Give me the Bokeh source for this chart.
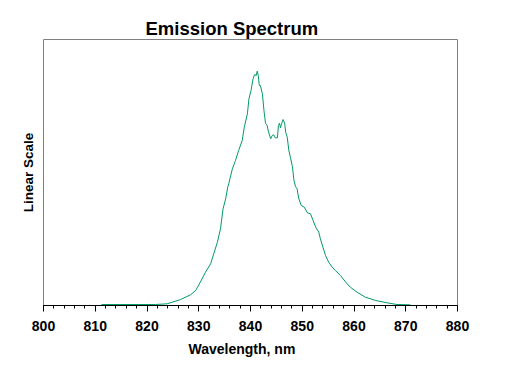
from bokeh.plotting import figure
from bokeh.embed import file_html
from bokeh.resources import INLINE
from bokeh.models import Range1d, FixedTicker, Title

# Emission spectrum (wavelength in nm, intensity in arbitrary linear units)
wavelength = [811.2, 821.6, 823.9, 826.5, 828.4, 829.4, 830.3, 831.3, 832.3, 832.9,
              833.6, 834.2, 834.7, 835.2, 835.6, 835.8, 836.1, 836.5, 837.1, 837.7,
              838.4, 838.8, 839.4, 839.7, 840.1, 840.5, 840.8, 841.1, 841.3, 841.5,
              841.7, 841.9, 842.3, 842.6, 842.9, 843.2, 843.5, 843.9, 844.2, 844.5,
              844.8, 845.2, 845.4, 845.6, 845.8, 846.0, 846.3, 846.6, 846.8, 847.1,
              847.4, 847.7, 848.1, 848.4, 848.7, 849.0, 849.3, 849.8, 850.4, 851.0,
              851.6, 852.1, 852.6, 853.2, 853.5, 854.0, 854.5, 855.1, 855.8, 856.4,
              857.4, 858.4, 859.3, 860.6, 862.2, 864.2, 866.4, 868.3, 870.9]
intensity = [1.0, 1.0, 1.7, 6.0, 10.7, 15.0, 23.3, 33.3, 41.7, 51.7,
             63.3, 76.7, 96.7, 106.7, 118.3, 121.7, 128.3, 136.7, 145.0, 155.0,
             165.0, 178.3, 191.7, 206.7, 215.0, 226.7, 231.0, 230.0, 234.3, 230.0,
             220.0, 220.0, 211.7, 195.0, 182.3, 180.0, 173.3, 166.7, 170.0, 170.7,
             167.7, 167.7, 180.0, 182.3, 177.7, 181.7, 186.0, 182.3, 173.3, 168.3,
             155.5, 148.3, 139.0, 125.0, 119.0, 116.7, 107.5, 100.0, 98.3, 92.7,
             91.7, 85.0, 78.3, 73.3, 66.7, 58.3, 50.0, 43.3, 38.3, 35.0,
             30.0, 23.3, 18.3, 13.3, 8.3, 5.0, 2.7, 1.0, 0.7]

x_ticks = [800, 810, 820, 830, 840, 850, 860, 870, 880]

FONT = "Liberation Sans"

p = figure(frame_width=414, frame_height=266,
           min_border_left=43, min_border_right=40, min_border_top=39, min_border_bottom=16,
           output_backend="svg", toolbar_location=None,
           x_range=Range1d(800, 880), y_range=Range1d(0, 266),
           background_fill_color="white", border_fill_color="white")

p.title = Title(text="Emission Spectrum", align="left", offset=102,
                text_font=FONT, text_font_size="18.5px", text_font_style="bold",
                text_color="black", standoff=2)

p.line(wavelength, intensity, line_color="#009966", line_width=1)

p.xgrid.grid_line_color = None
p.ygrid.grid_line_color = None
p.outline_line_color = "#808080"
p.outline_line_width = 1

xa = p.xaxis[0]
xa.ticker = FixedTicker(ticks=x_ticks, minor_ticks=list(range(800, 881, 2)))
xa.major_label_text_font = FONT
xa.major_label_text_font_size = "14px"
xa.major_label_text_font_style = "bold"
xa.major_label_text_color = "black"
xa.major_label_standoff = 9
xa.axis_line_color = "black"
xa.major_tick_line_color = "black"
xa.minor_tick_line_color = "black"
xa.major_tick_in = 0
xa.major_tick_out = 6
xa.minor_tick_in = 0
xa.minor_tick_out = 3

p.add_layout(Title(text="Wavelength, nm", align="left", offset=145,
                   text_font=FONT, text_font_size="14px", text_font_style="bold",
                   text_color="black", standoff=11), "below")

ya = p.yaxis[0]
ya.ticker = FixedTicker(ticks=[])
ya.axis_label = "Linear Scale"
ya.axis_label_text_font = FONT
ya.axis_label_text_font_size = "13.5px"
ya.axis_label_text_font_style = "bold"
ya.axis_label_text_color = "black"
ya.axis_label_standoff = 8
ya.axis_line_color = None
ya.major_tick_line_color = None
ya.minor_tick_line_color = None
ya.major_label_text_font_size = "0px"

open("out.html", "w").write(file_html(p, INLINE))
